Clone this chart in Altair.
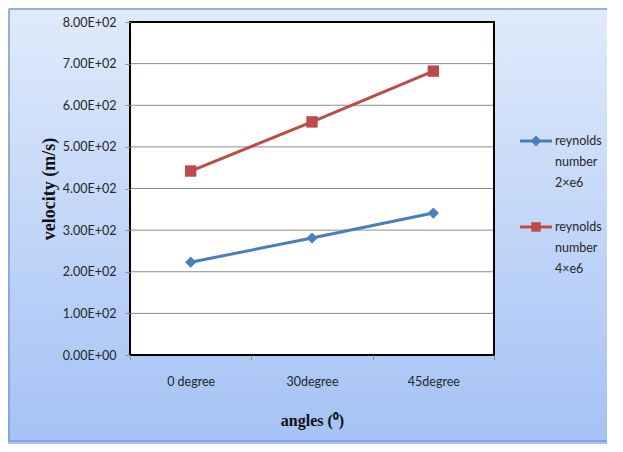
import json
import altair as alt
import pandas as pd

# ---- data ----
categories = ["0 degree", "30degree", "45degree"]
series_names = ["reynolds number 2×e6", "reynolds number 4×e6"]
re_2e6 = [223, 281, 341]
re_4e6 = [442, 560, 682]
y_ticks = [0, 100, 200, 300, 400, 500, 600, 700, 800]
colors = ["#4A7EBB", "#BE4B48"]

rows = []
for i, c in enumerate(categories):
    rows.append({"cat": c, "pos": i + 0.5, "series": series_names[0], "v": re_2e6[i]})
for i, c in enumerate(categories):
    rows.append({"cat": c, "pos": i + 0.5, "series": series_names[1], "v": re_4e6[i]})
df = pd.DataFrame(rows)
grid_df = pd.DataFrame({"v": [t for t in y_ticks if 0 < t < max(y_ticks)]})
one = pd.DataFrame({"a": [0]})

W, H = 364, 333
LABEL_FONT = "Lato"
TITLE_FONT = "Liberation Serif"

xs = alt.Scale(domain=[0, len(categories)], nice=False, zero=False)
ys = alt.Scale(domain=[0, 800], nice=False)

x_label_expr = json.dumps(categories) + "[datum.value] || ''"
y_label_expr = "datum.value == 0 ? '0.00E+00' : format(datum.value / 100, '.2f') + 'E+02'"

X = alt.X("pos:Q", scale=xs, axis=alt.Axis(
    values=list(range(len(categories) + 1)), labelExpr=x_label_expr,
    labelOffset=W / (2 * len(categories)), labelFlush=False, labelPadding=15,
    labelFont=LABEL_FONT, labelFontSize=12.5, labelColor="#262626",
    tickSize=5, tickColor="#8C8C8C", tickWidth=1, domain=False, grid=False,
    title="angles (⁰)", titleFont=TITLE_FONT, titleFontSize=16, titleFontWeight="bold",
    titleColor="#111111", titleX=W / 2, titleY=65, titleBaseline="middle", titleAlign="center",
    zindex=1))
Y = alt.Y("v:Q", scale=ys, axis=alt.Axis(
    values=y_ticks, labelExpr=y_label_expr, labelPadding=9,
    labelFont=LABEL_FONT, labelFontSize=12.5, labelColor="#262626",
    tickSize=5, tickColor="#8C8C8C", tickWidth=1, domain=False, grid=False,
    title="velocity (m/s)", titleFont=TITLE_FONT, titleFontSize=18, titleFontWeight="bold",
    titleColor="#111111", titlePadding=4, zindex=1))

bg = alt.Chart(one).mark_rect(
    fill=alt.Gradient(gradient="linear", x1=0, y1=0, x2=0, y2=1,
                      stops=[alt.GradientStop(color="#E0EAFB", offset=0),
                             alt.GradientStop(color="#A4C2F5", offset=1)])
).encode(x=alt.value(-122), x2=alt.value(W + 113), y=alt.value(-14), y2=alt.value(H + 89))

frame_l = alt.Chart(one).mark_rule(color="#7E9DCB", strokeWidth=1.5).encode(
    x=alt.value(-121), y=alt.value(-13), y2=alt.value(H + 86))
frame_t = alt.Chart(one).mark_rule(color="#7E9DCB", strokeWidth=1.5).encode(
    x=alt.value(-121), x2=alt.value(W + 113), y=alt.value(-13))
frame_b = alt.Chart(one).mark_rule(color="#7E9DCB", strokeWidth=1.5).encode(
    x=alt.value(-121), x2=alt.value(W + 113), y=alt.value(H + 86))

# legend symbols: a short line with the marker on it
diamond_path = "M-1,-0.09H1V0.09H-1Z M0,-0.34L0.34,0L0,0.34L-0.34,0Z"
square_path = "M-1,-0.09H1V0.09H-1Z M-0.3,-0.3H0.3V0.3H-0.3Z"
legend_params = dict(orient="none", legendX=390, legendY=103, title=None,
                     symbolSize=1024, symbolStrokeWidth=0, padding=0,
                     labelExpr="split(datum.label, ' ')", labelFont=LABEL_FONT,
                     labelFontSize=12.5, labelColor="#262626", labelOffset=3,
                     labelLimit=200, rowPadding=21)
# its own points sit under the white plot area, only the legend shows
legend_layer = alt.Chart(df).mark_point(filled=True, opacity=1, size=20).encode(
    x=alt.value(W / 2), y=alt.value(H / 2),
    color=alt.Color("series:N", scale=alt.Scale(domain=series_names, range=colors),
                    legend=alt.Legend(**legend_params)),
    shape=alt.Shape("series:N", scale=alt.Scale(domain=series_names,
                                                range=[diamond_path, square_path]),
                    legend=alt.Legend(**legend_params)))

plot_bg = alt.Chart(one).mark_rect(fill="white").encode(
    x=alt.value(0), x2=alt.value(W), y=alt.value(0), y2=alt.value(H))

grid = alt.Chart(grid_df).mark_rule(color="#8C8C8C", strokeWidth=1).encode(
    y=Y, x=alt.value(0), x2=alt.value(W))

lines = alt.Chart(df).mark_line(strokeWidth=3).encode(
    x=X, y=Y,
    stroke=alt.Stroke("series:N", scale=alt.Scale(domain=series_names, range=colors), legend=None),
    detail="series:N")

pts_a = alt.Chart(df).transform_filter(
    alt.datum.series == series_names[0]
).mark_point(shape="diamond", filled=True, size=125, opacity=1, color=colors[0]).encode(x=X, y=Y)

pts_b = alt.Chart(df).transform_filter(
    alt.datum.series == series_names[1]
).mark_point(shape="square", filled=True, size=130, opacity=1, color=colors[1]).encode(x=X, y=Y)

border = alt.Chart(one).mark_rect(fillOpacity=0, stroke="#000000", strokeWidth=2).encode(
    x=alt.value(0), x2=alt.value(W), y=alt.value(0), y2=alt.value(H))

chart = alt.layer(bg, frame_l, frame_t, frame_b, legend_layer, plot_bg, grid, lines,
                  pts_a, pts_b, border).properties(
    width=W, height=H,
    autosize=alt.AutoSizeParams(type="none"),
    padding={"left": 122, "top": 14, "right": 113, "bottom": 89},
).configure_view(stroke=None).configure(style={"guide-label": {"lineHeight": 21}})

chart.save("out.html", embed_options={"renderer": "svg", "actions": False})
